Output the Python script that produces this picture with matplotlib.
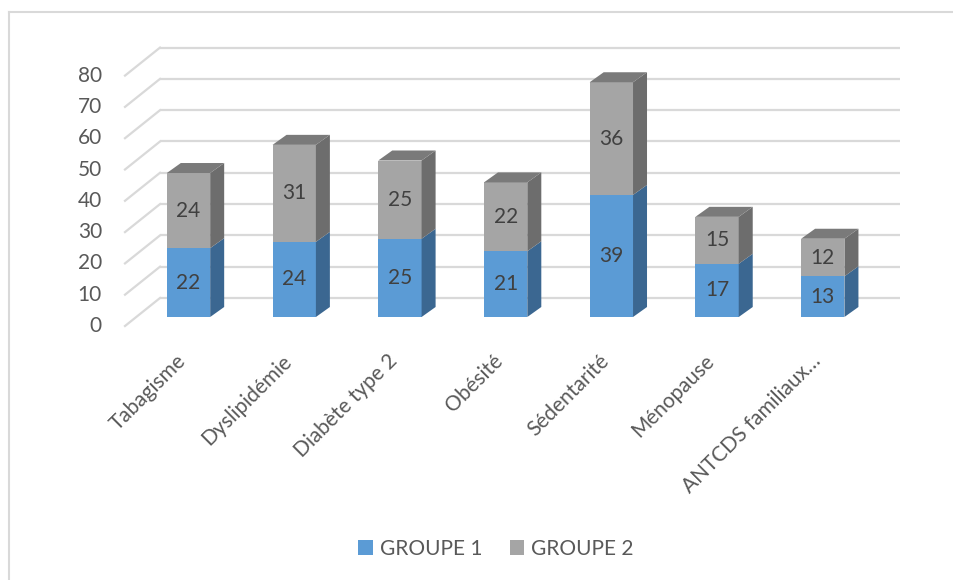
import matplotlib
matplotlib.use("Agg")
import matplotlib.pyplot as plt
from matplotlib.patches import Polygon, Patch
from matplotlib.lines import Line2D
import numpy as np

categories = ["Tabagisme", "Dyslipidémie", "Diabète type 2", "Obésité",
              "Sédentarité", "Ménopause", "ANTCDS familiaux…"]
groupe1 = [22, 24, 25, 21, 39, 17, 13]
groupe2 = [24, 31, 25, 22, 36, 15, 12]
yticks = [0, 10, 20, 30, 40, 50, 60, 70, 80]
series_names = ["GROUPE 1", "GROUPE 2"]

plt.rcParams['font.family'] = ['Lato', 'DejaVu Sans']
FS = 15

W, H = 954, 580
fig = plt.figure(figsize=(W / 100, H / 100), dpi=100)
fig.patch.set_facecolor("white")

# frame of the chart area (left and top edges visible)
fig.add_artist(Line2D([9 / W, 9 / W], [0, 1 - 12 / H], color="#D9D9D9", lw=1.5))
fig.add_artist(Line2D([9 / W, 1], [1 - 12 / H, 1 - 12 / H], color="#D9D9D9", lw=1.5))

# axes = plane of the bar fronts
left_px, zero_px, slot_px, unit_px = 135.65, 317, 105.71, 3.13
n = len(categories)
ax = fig.add_axes([left_px / W, (H - zero_px) / H, slot_px * n / W, 80 * unit_px / H])
ax.set_xlim(-0.5, n - 0.5)
ax.set_ylim(0, 80)
ax.axis("off")

def px2data(dxp, dyp):
    p0 = ax.transData.transform((0, 0))
    q = ax.transData.inverted().transform(p0 + np.array([dxp, dyp]))
    return q[0], q[1]

dxb, dyb = px2data(24.35, 19)     # back wall offset
dxf, dyf = px2data(-10.65, -9)    # front plane offset
ddx, ddy = px2data(14, 10)        # bar depth

grid_c = "#D9D9D9"
for v in yticks:
    ax.plot([-0.5 + dxb, n - 0.5 + dxb], [v + dyb, v + dyb], color=grid_c, lw=1.6,
            clip_on=False, zorder=1, solid_capstyle="butt")
    ax.plot([-0.5 + dxf, -0.5 + dxb], [v + dyf, v + dyb], color=grid_c, lw=1.6,
            clip_on=False, zorder=1)
    ax.annotate(str(v), xy=(-0.5 + dxf, v + dyf), xytext=(-23, 0),
                textcoords="offset pixels", ha="right", va="center",
                fontsize=FS, color="#595959", annotation_clip=False)

x = np.arange(n)
w = 0.41
g1 = np.array(groupe1)
g2 = np.array(groupe2)
front = ["#5B9BD5", "#A5A5A5"]
side = ["#3B6791", "#6D6D6D"]
top_c = "#7A7A7A"

ax.bar(x, g1, width=w, color=front[0], zorder=3)
ax.bar(x, g2, bottom=g1, width=w, color=front[1], zorder=3)

for i in range(n):
    segs = [(0, g1[i], 0), (g1[i], g1[i] + g2[i], 1)]
    for b, t, k in segs:
        xr = x[i] + w / 2
        ax.add_patch(Polygon([(xr, b), (xr + ddx, b + ddy), (xr + ddx, t + ddy), (xr, t)],
                             closed=True, facecolor=side[k], edgecolor="none",
                             zorder=3, clip_on=False))
    T = g1[i] + g2[i]
    ax.add_patch(Polygon([(x[i] - w / 2, T), (x[i] + w / 2, T),
                          (x[i] + w / 2 + ddx, T + ddy), (x[i] - w / 2 + ddx, T + ddy)],
                         closed=True, facecolor=top_c, edgecolor="none", zorder=3,
                         clip_on=False))
    ax.text(x[i], g1[i] / 2, str(g1[i]), ha="center", va="center",
            fontsize=FS, color="#404040", zorder=5)
    ax.text(x[i], g1[i] + g2[i] / 2, str(g2[i]), ha="center", va="center",
            fontsize=FS, color="#404040", zorder=5)
    ax.annotate(categories[i], xy=(x[i] + dxf, dyf), xytext=(-2, -25),
                textcoords="offset pixels", ha="right", va="top", rotation=45,
                rotation_mode="anchor", fontsize=FS, color="#595959",
                annotation_clip=False)

handles = [Patch(facecolor=front[0]), Patch(facecolor=front[1])]
fig.legend(handles, series_names, loc="center", bbox_to_anchor=(496 / W, 1 - 549 / H),
           ncol=2, frameon=False, fontsize=FS, labelcolor="#595959",
           handlelength=0.7, handleheight=0.7, handletextpad=0.35, columnspacing=1.3)

fig.savefig("out.png", dpi=100)
